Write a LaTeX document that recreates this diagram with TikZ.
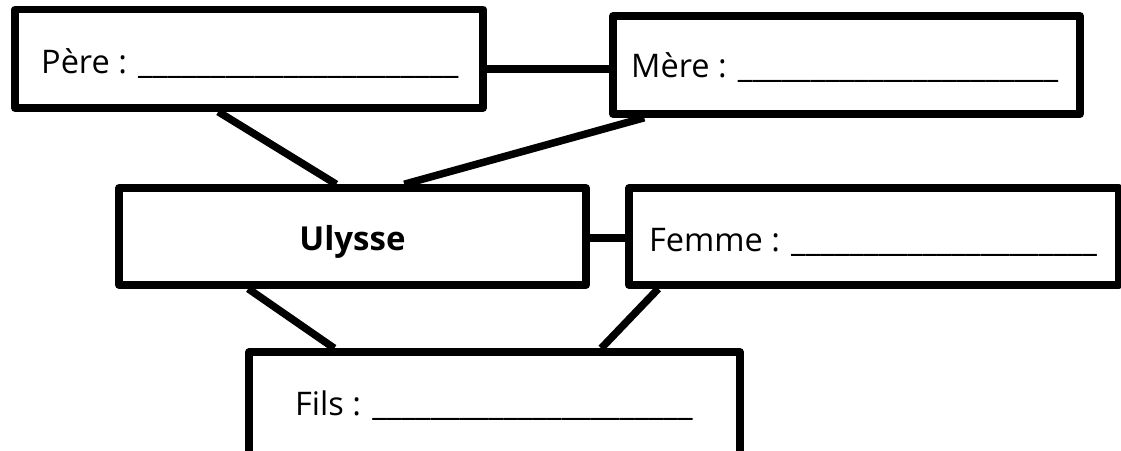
\documentclass[tikz,border=0pt]{standalone}
\usepackage{fontspec}
\setmainfont{Open Sans}
\usetikzlibrary{calc}
\newcommand{\blankshort}{\_\_\_\_\_\_\_\_\_\_\_\_\_\_\_\_\_\_\_\_\_}
\newcommand{\blank}{\blankshort\_}
\begin{document}
\begin{tikzpicture}[x=1pt,y=-1pt,
  box/.style={draw=black, line width=7.5pt, line join=round, inner sep=0pt, rectangle, fill=white},
  link/.style={draw=black, line width=7.5pt},
  lbl/.style={inner sep=0pt, anchor=base west, font=\fontsize{32.5}{38}\selectfont}]
\useasboundingbox (0,0) rectangle (1121,450);
\clip (0,0) rectangle (1121,450);
\fill[white] (0,0) rectangle (1121,450);
% boxes
\node[box, minimum width=468pt, minimum height=98.5pt] (pere) at (249,58.75) {};
\node[box, minimum width=467pt, minimum height=98pt] (mere) at (846.5,65) {};
\node[box, minimum width=467pt, minimum height=97pt] (ulysse) at (352.5,236.5) {};
\node[box, minimum width=490pt, minimum height=97pt] (femme) at (874,236.5) {};
\node[box, minimum width=491pt, minimum height=110pt] (fils) at (494.5,407) {};
% connectors
\draw[link] ([yshift=-10pt]pere.east) -- ([yshift=-10pt]pere.east -| mere.west);
\draw[link] ([xshift=207pt]pere.south west) -- ([xshift=221pt]ulysse.north west);
\draw[link] ([xshift=35pt]mere.south west) -- ([xshift=289pt]ulysse.north west);
\draw[link] ([yshift=-1.5pt]ulysse.east) -- ([yshift=-1.5pt]ulysse.east -| femme.west);
\draw[link] ([xshift=133pt]ulysse.south west) -- ([xshift=89pt]fils.north west);
\draw[link] ([xshift=33pt]femme.south west) -- ([xshift=356pt]fils.north west);
% texts
\node[lbl] (tpere) at (41,73) {Père : \blank};
\node[lbl] (tmere) at (631,77) {Mère : \blank};
\node[lbl, anchor=base, font=\fontsize{33}{38}\selectfont\bfseries] (tulysse) at (352.5,250) {Ulysse};
\node[lbl] (tfemme) at (649,251) {Femme : \blankshort};
\node[lbl] (tfils) at (295,415) {Fils : \blank};
\end{tikzpicture}
\end{document}
